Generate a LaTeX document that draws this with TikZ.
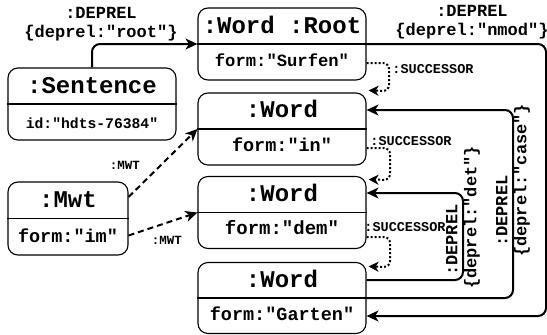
\documentclass[tikz,border=0pt]{standalone}
\usepackage{fontspec}
\setmonofont{Liberation Mono}
\usetikzlibrary{arrows.meta,calc}
\begin{document}
\begin{tikzpicture}[x=1pt,y=-1pt,
  box/.style={draw, line width=1.1pt, rounded corners=10pt, inner sep=0pt, minimum width=168pt, minimum height=72pt},
  hdr/.style={anchor=base, inner sep=0pt, font=\ttfamily\bfseries\fontsize{24}{24}\selectfont},
  bdy/.style={anchor=base, inner sep=0pt, font=\ttfamily\bfseries\fontsize{#1}{#1}\selectfont},
  bdy/.default=18,
  lbl/.style={inner sep=0pt, align=center, font=\ttfamily\bfseries\fontsize{17}{19}\selectfont},
  rlbl/.style={inner sep=0pt, align=left, rotate=90, anchor=west, font=\ttfamily\bfseries\fontsize{17}{19}\selectfont},
  small/.style={inner sep=0pt, font=\ttfamily\bfseries\fontsize{#1}{#1}\selectfont},
  small/.default=13.5,
  rel/.style={line width=2pt, rounded corners=8pt, -{Stealth[length=12pt,width=11pt,inset=3.5pt]}},
  succ/.style={line width=2pt, dash pattern=on 2pt off 2pt, rounded corners=6pt, -{Stealth[length=10pt,width=10pt,inset=3pt]}},
  mw/.style={line width=2pt, dash pattern=on 6pt off 4pt, -{Stealth[length=12pt,width=11pt,inset=3.5pt]}}
]
\useasboundingbox (0,0) rectangle (547,335);

% boxes
\node[box] (root) at (282,44) {};
\node[box] (win) at (282,129) {};
\node[box] (wdem) at (282,212.5) {};
\node[box, minimum height=71pt] (wgar) at (282,298) {};
\node[box] (sent) at (92,104) {};
\node[box, minimum width=120pt, minimum height=73pt] (mwt) at (68,218.5) {};

\foreach \b in {root,win,wdem,wgar,sent,mwt}{
  \draw[line width=1.1pt] (\b.west) -- (\b.east);
}

% texts
\node[hdr] (root-h) at (282,33) {:Word :Root};
\node[bdy=17.2] (root-b) at (282,66) {form:"Surfen"};
\node[hdr] (win-h) at (282,117) {:Word};
\node[bdy=18.5] (win-b) at (282,151) {form:"in"};
\node[hdr] (wdem-h) at (282,201) {:Word};
\node[bdy=19] (wdem-b) at (282,234.5) {form:"dem"};
\node[hdr] (wgar-h) at (282,287) {:Word};
\node[bdy=18.5] (wgar-b) at (282,320) {form:"Garten"};
\node[hdr] (sent-h) at (92,93) {:Sentence};
\node[bdy=14.7] (sent-b) at (92,128) {id:"hdts-76384"};
\node[hdr] (mwt-h) at (68,207) {:Mwt};
\node[bdy=18.5] (mwt-b) at (68,242) {form:"im"};

% DEPREL connectors
\draw[rel] (sent.north) |- (root.west);
\node[lbl] (l-root) at (101,24) {:DEPREL\\\{deprel:"root"\}};

\coordinate (nm) at (546,316);
\draw[rel] (root.east) -| (nm) -- ($(wgar.east)+(0,18)$);
\node[lbl] (l-nmod) at (472,22) {:DEPREL\\\{deprel:"nmod"\}};

\coordinate (dt) at (463,193);
\draw[rel] ($(wgar.east)+(0,-18)$) -| (dt) -- ($(wdem.east)+(0,-19.5)$);
\node[rlbl] (l-det) at (463,289) {\hspace*{13pt}:DEPREL\\\{deprel:"det"\}};

\coordinate (cs) at (513,110);
\draw[rel] (wgar.east) -| (cs) -- ($(win.east)+(0,-19)$);
\node[rlbl] (l-case) at (513,257) {\hspace*{10pt}:DEPREL\\\{deprel:"case"\}};

% SUCCESSOR
\coordinate (s1) at (389,91);
\draw[succ] ($(root.east)+(0,19)$) -| (s1) -- ($(win.north east)+(2,-2)$);
\node[small] (l-s1) at (433,69) {:SUCCESSOR};
\coordinate (s2) at (390,180);
\draw[succ] ($(win.east)+(0,19)$) -| (s2) -- ($(wdem.north east)+(2,3.5)$);
\node[small] (l-s2) at (411,141) {:SUCCESSOR};
\coordinate (s3) at (390,267);
\draw[succ] ($(wdem.east)+(0,24.5)$) -| (s3) -- ($(wgar.north east)+(2,4.5)$);
\node[small] (l-s3) at (405,227) {:SUCCESSOR};

% MWT
\draw[mw] ($(mwt.east)+(0,-21.5)$) -- (win.west);
\node[small=12.5] (l-m1) at (125,165) {:MWT};
\draw[mw] ($(mwt.east)+(0,17)$) -- (wdem.west);
\node[small=12.5] (l-m2) at (167,240) {:MWT};
\end{tikzpicture}
\end{document}
